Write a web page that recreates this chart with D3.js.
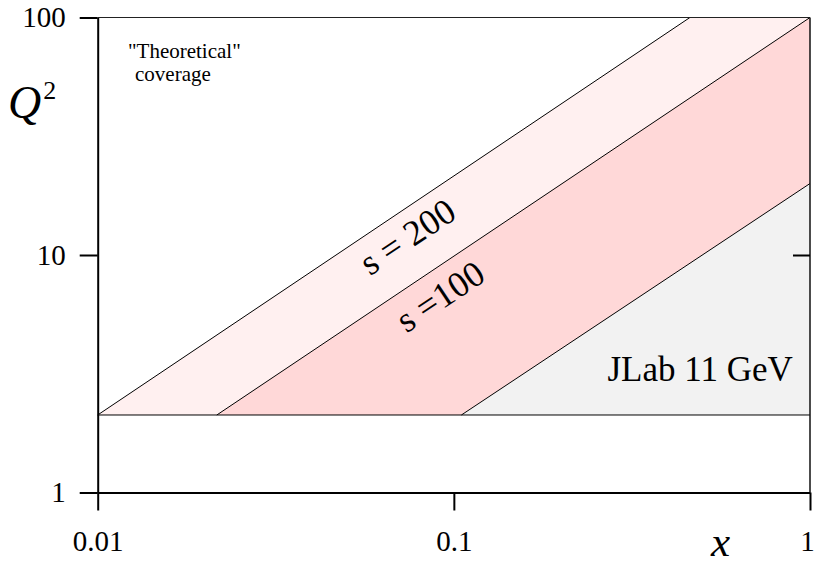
<!DOCTYPE html>
<html>
<head>
<meta charset="utf-8">
<script src="https://cdn.jsdelivr.net/npm/d3@7"></script>
</head>
<body style="margin:0; padding:0; background:#fff">
<svg id="chart" width="814" height="566" style="display:block"></svg>
<script>
// Kinematic coverage in the (x, Q^2) plane, log-log axes
const xDomain = [0.01, 1];
const q2Domain = [1, 100];
const xTicks = [0.01, 0.1, 1];
const q2Ticks = [1, 10, 100];
const q2Min = 2.12;

// Boundary lines [x, Q^2] endpoints
const s200Edge = [[0.01, q2Min], [0.46, 100]];
const s100Edge = [[0.0216, q2Min], [1, 100]];
const jlabEdge = [[0.105, q2Min], [1, 20]];

// Region polygons built from the boundary lines
const regions = [
  { name: "s200", fill: "#fff0f0",
    pts: [s200Edge[0], s200Edge[1], s100Edge[1], s100Edge[0]] },
  { name: "s100", fill: "#ffd8d8",
    pts: [s100Edge[0], s100Edge[1], jlabEdge[1], jlabEdge[0]] },
  { name: "jlab", fill: "#f2f2f2",
    pts: [jlabEdge[0], jlabEdge[1], [1, q2Min]] }
];

const typeface = '"Liberation Serif"';

const svg = d3.select("#chart");
const x = d3.scaleLog().domain(xDomain).range([97.7, 810]);
const y = d3.scaleLog().domain(q2Domain).range([492.5, 17.5]);

const line = d3.line().x(d => x(d[0])).y(d => y(d[1]));

// filled regions
svg.append("g").selectAll("path")
  .data(regions).join("path")
  .attr("d", d => line(d.pts) + "Z")
  .attr("fill", d => d.fill)
  .attr("stroke", "none");

// boundary lines
svg.append("g").selectAll("path")
  .data([s200Edge, s100Edge, jlabEdge, [[xDomain[0], q2Min], [xDomain[1], q2Min]]])
  .join("path")
  .attr("d", line)
  .attr("fill", "none")
  .attr("stroke", "#000")
  .attr("stroke-width", 1);

// frame: top and right borders
svg.append("line")
  .attr("x1", x(xDomain[0])).attr("x2", x(xDomain[1]))
  .attr("y1", y(q2Domain[1])).attr("y2", y(q2Domain[1]))
  .attr("stroke", "#222").attr("stroke-width", 1.2);
svg.append("line")
  .attr("x1", x(xDomain[1])).attr("x2", x(xDomain[1]))
  .attr("y1", y(q2Domain[1])).attr("y2", y(q2Domain[0]))
  .attr("stroke", "#111").attr("stroke-width", 1.5);

// axes
const tickFmt = d => d3.format("~g")(d);
const yAxis = svg.append("g")
  .attr("transform", `translate(${x(xDomain[0])},0)`)
  .call(d3.axisLeft(y).tickValues(q2Ticks).tickFormat(tickFmt)
    .tickSize(18).tickSizeOuter(0).tickPadding(14));
const xAxis = svg.append("g")
  .attr("transform", `translate(0,${y(q2Domain[0])})`)
  .call(d3.axisBottom(x).tickValues(xTicks).tickFormat(tickFmt)
    .tickSize(18).tickSizeOuter(0).tickPadding(20));
yAxis.attr("font-family", null);
xAxis.attr("font-family", null);
// keep the last x tick label inside the page
xAxis.selectAll(".tick text").filter(d => d === 1).attr("dx", -3);

// inner tick on the right border
svg.append("g")
  .attr("transform", `translate(${x(xDomain[1])},0)`)
  .call(d3.axisLeft(y).tickValues([10]).tickFormat("")
    .tickSize(17).tickSizeOuter(0))
  .select(".domain").remove();

svg.selectAll(".domain").attr("stroke", "#000").attr("stroke-width", 2);
svg.selectAll(".tick line").attr("stroke", "#000").attr("stroke-width", 2);
svg.selectAll(".tick text")
  .attr("font-size", 29)
  .attr("fill", "#000");

// axis titles
const q2Label = svg.append("text")
  .attr("x", 8).attr("y", 118)
  .attr("font-size", 46);
q2Label.append("tspan").attr("font-style", "italic").text("Q");
q2Label.append("tspan").attr("font-size", 26).attr("dx", 2).attr("dy", -19).text("2");

svg.append("text")
  .attr("x", 711).attr("y", 556)
  .attr("font-size", 43).attr("font-style", "italic")
  .text("x");

// annotations
svg.append("text").attr("x", 128).attr("y", 58)
  .attr("font-size", 21).text("\"Theoretical\"");
svg.append("text").attr("x", 135).attr("y", 81)
  .attr("font-size", 21).text("coverage");

svg.append("text")
  .attr("x", x(0.27)).attr("y", y(2.95))
  .attr("font-size", 35)
  .text("JLab 11 GeV");

// labels along the diagonal lines
const angle = Math.atan2(y(100) - y(10), x(0.1) - x(0.01)) * 180 / Math.PI;
const diagLabels = [
  { text: "s = 200", at: [0.074, 12.0] },
  { text: "s =100", at: [0.0914, 6.72] }
];
svg.append("g").selectAll("text")
  .data(diagLabels).join("text")
  .attr("transform", d => `translate(${x(d.at[0])},${y(d.at[1])}) rotate(${angle})`)
  .attr("text-anchor", "middle")
  .attr("dy", "0.35em")
  .attr("font-size", 36)
  .text(d => d.text);

// serif type throughout
svg.selectAll("text").style("font-family", typeface).attr("fill", "#000");
</script>
</body>
</html>
